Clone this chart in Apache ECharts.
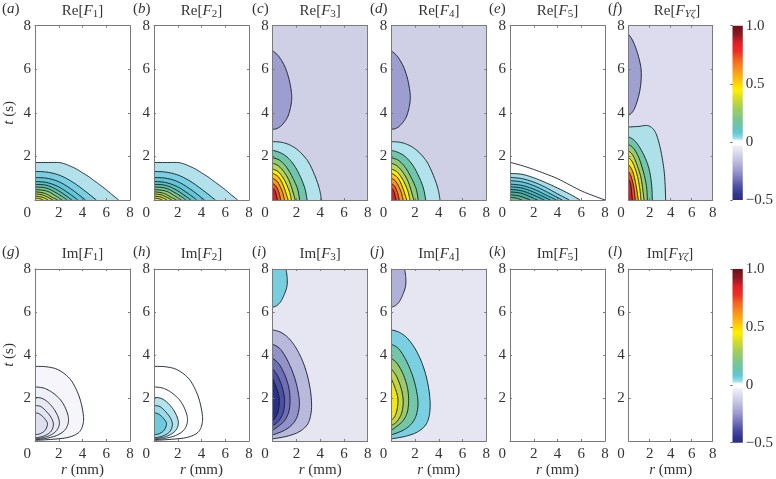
<!DOCTYPE html>
<html><head><meta charset="utf-8">
<style>html,body{margin:0;padding:0;background:#fff}#c{width:776px;height:479px}</style>
<script src="https://cdn.jsdelivr.net/npm/echarts@6/dist/echarts.min.js"></script>
</head><body><div id="c"></div>
<script>
// Contour curves, as [r (mm), t (s)], outermost first.
const reF1Lines = [
 [[0,1.72],[1,1.72],[2,1.72],[2.5,1.66],[3,1.55],[3.5,1.42],[4,1.25],[4.5,1.08],[5,0.88],[5.5,0.68],[6,0.47],[6.5,0.24],[7.05,0]],
 [[0,1.31],[1,1.28],[2,1.15],[3,0.88],[4,0.5],[5.17,0]],
 [[0,1.03],[1,1.0],[2,0.84],[3,0.52],[4.25,0]],
 [[0,0.85],[1,0.8],[2,0.6],[3,0.25],[3.6,0]],
 [[0,0.72],[1,0.67],[2,0.42],[3.1,0]],
 [[0,0.6],[1,0.54],[2,0.26],[2.7,0]],
 [[0,0.48],[1,0.41],[1.8,0.17],[2.3,0]],
 [[0,0.38],[0.8,0.31],[1.4,0.14],[1.9,0]],
 [[0,0.28],[0.7,0.22],[1.5,0]],
 [[0,0.18],[0.6,0.13],[1.1,0]],
 [[0,0.09],[0.4,0.06],[0.7,0]]
];
const reF2Lines = reF1Lines;
const reF3Lines = [
 [[0,6.85],[0.5,6.6],[1,6.15],[1.35,5.6],[1.55,5.05],[1.6,4.66],[1.5,4.25],[1.25,3.8],[0.8,3.45],[0.4,3.29],[0,3.24]],
 [[0,2.68],[0.6,2.66],[1.2,2.58],[1.8,2.42],[2.4,2.15],[3,1.75],[3.45,1.25],[3.8,0.75],[4,0.35],[4.1,0]],
 [[0,2.28],[0.6,2.18],[1.2,1.98],[1.8,1.6],[2.3,1.1],[2.7,0.55],[2.9,0]],
 [[0,1.94],[0.6,1.82],[1.2,1.48],[1.7,1.0],[2.1,0.5],[2.27,0]],
 [[0,1.69],[0.5,1.56],[1,1.25],[1.45,0.8],[1.9,0]],
 [[0,1.42],[0.5,1.28],[1,0.9],[1.4,0.4],[1.57,0]],
 [[0,1.23],[0.5,1.05],[0.9,0.65],[1.3,0]],
 [[0,1.0],[0.4,0.84],[0.8,0.4],[1.0,0]],
 [[0,0.76],[0.3,0.62],[0.55,0.3],[0.67,0]],
 [[0,0.53],[0.2,0.42],[0.4,0]]
];
const reF4Lines = reF3Lines;
const reF5Lines = [
 [[0,1.73],[1,1.58],[2,1.4],[3,1.2],[4,0.98],[5,0.7],[6,0.42],[7,0.2],[8,0]],
 [[0,1.22],[1,1.18],[2,1.02],[3,0.8],[4,0.55],[5,0.28],[5.9,0]],
 [[0,1.04],[1,0.98],[2,0.82],[3,0.58],[4,0.28],[5,0]],
 [[0,0.89],[1,0.83],[2,0.66],[3,0.4],[4.4,0]],
 [[0,0.73],[1,0.67],[2,0.5],[3,0.24],[3.9,0]],
 [[0,0.61],[1,0.55],[2,0.36],[3.4,0]],
 [[0,0.49],[1,0.42],[2,0.22],[2.9,0]],
 [[0,0.37],[1,0.3],[2.3,0]],
 [[0,0.24],[0.8,0.18],[1.7,0]],
 [[0,0.12],[0.5,0.09],[1,0]]
];
const reFYLines = [
 [[0,7.6],[0.4,7.3],[0.8,6.8],[1.1,6.25],[1.2,5.8],[1.12,5.2],[0.85,4.6],[0.45,4.1],[0,3.88]],
 [[0,3.35],[1,3.38],[1.7,3.42],[2.2,3.32],[2.6,3.05],[2.95,2.5],[3.2,1.9],[3.38,1.3],[3.47,0.7],[3.52,0]],
 [[0,2.9],[0.5,2.75],[1,2.45],[1.6,1.9],[2,1.3],[2.2,0.6],[2.25,0]],
 [[0,2.55],[0.5,2.35],[1,1.9],[1.45,1.2],[1.7,0.6],[1.78,0]],
 [[0,2.25],[0.4,2.05],[0.8,1.6],[1.2,0.95],[1.46,0]],
 [[0,1.95],[0.4,1.7],[0.8,1.15],[1.05,0.55],[1.17,0]],
 [[0,1.62],[0.35,1.35],[0.65,0.8],[0.92,0]],
 [[0,1.3],[0.25,1.05],[0.5,0.55],[0.63,0]],
 [[0,0.95],[0.2,0.7],[0.35,0]]
];
const imF1Lines = [
 [[0,3.47],[1,3.45],[2,3.3],[3,2.85],[3.7,2.1],[4.05,1.3],[4.05,0.8],[3.7,0.4],[2.8,0.17],[1.5,0.08],[0,0.03]],
 [[0,2.52],[0.8,2.45],[1.6,2.2],[2.3,1.8],[2.75,1.25],[2.8,0.85],[2.5,0.5],[1.8,0.25],[0.8,0.11],[0,0.06]],
 [[0,2.03],[0.6,1.98],[1.2,1.75],[1.75,1.35],[2.05,0.9],[1.9,0.55],[1.4,0.3],[0.7,0.16],[0,0.1]],
 [[0,1.65],[0.5,1.6],[1,1.35],[1.4,1.05],[1.55,0.75],[1.35,0.45],[0.9,0.27],[0.4,0.18],[0,0.15]],
 [[0,1.32],[0.4,1.25],[0.8,1.05],[1.05,0.8],[0.85,0.5],[0.4,0.33],[0,0.3]]
];
const imF2Lines = imF1Lines;
const imF3Lines = [
 [[1.12,8],[1.22,7.6],[1.2,7.2],[1,6.85],[0.7,6.5],[0.35,6.3],[0,6.22]],
 [[0,5.17],[0.7,5.05],[1.4,4.75],[2.1,4.2],[2.7,3.45],[3.1,2.6],[3.27,1.8],[3.2,1.2],[2.9,0.75],[2.2,0.42],[1.2,0.22],[0,0.1]],
 [[0,4.5],[0.6,4.3],[1.2,3.8],[1.75,3.1],[2.1,2.4],[2.25,1.75],[2.1,1.2],[1.7,0.8],[1,0.5],[0,0.28]],
 [[0,3.85],[0.5,3.6],[1,3.1],[1.35,2.5],[1.46,1.9],[1.35,1.35],[1,0.95],[0.5,0.7],[0,0.5]],
 [[0,3.35],[0.4,3.05],[0.8,2.5],[1,1.9],[0.9,1.35],[0.6,1],[0.3,0.82],[0,0.72]],
 [[0,2.9],[0.3,2.5],[0.55,2],[0.5,1.5],[0.3,1.15],[0,0.95]]
];
const imF4Lines = imF3Lines;
const noLines = [];
// Fills, one per curve, in the same order.
const fillA = ['#b2e1ec','#7ccfe0','#62c6d6','#5cc2c4','#66c2ab','#7cc692','#93ca76','#aad25e','#c2d94c','#d4dc40','#e2e03a'];
const fillC = ['#9d9dcf','#b2e2ec','#70c5aa','#8fca78','#bcd653','#fff000','#fdc010','#f7941e','#ef4e23','#d2222a'];
const fillE = ['#ffffff','#a9dde9','#85d2e2','#66c8d8','#55c0cd','#4cb8bf','#4ab2ae','#4fb19d','#5cb890','#6cbf80'];
const fillF = ['#a0a0d0','#aee0ea','#70c5aa','#98cb6e','#c9d94a','#fff000','#f9a01b','#ee4a24','#cf2129'];
const fillG = ['#f5f5fb','#efeff8','#e9e9f5','#e4e4f2','#dedeef'];
const fillH = ['#ffffff','#ffffff','#b5e3ec','#9ddae7','#6fcbdc'];
const fillI = ['#76cede','#b9b9dc','#9292c8','#6d6fb5','#4d4fa5','#2b2f85'];
const fillJ = ['#b0b0d8','#7ad0e0','#74c6a8','#9cc96a','#c2d643','#f5e50f'];
// Colour-bar stops: [value, colour]
const barStops = [[-0.5,'#2a2d84'],[-0.45,'#31358f'],[-0.38,'#4f52a6'],[-0.32,'#7474b8'],[-0.25,'#9a9acd'],[-0.15,'#c5c5e2'],[-0.04,'#eeeef7'],[-0.02,'#ffffff'],[0.01,'#ffffff'],[0.02,'#c5ebf2'],[0.04,'#8fd8e6'],[0.08,'#5fc8d8'],[0.12,'#68c4b4'],[0.2,'#7cc68f'],[0.3,'#a8cf55'],[0.38,'#d8de26'],[0.45,'#fff100'],[0.5,'#ffd500'],[0.55,'#fdb913'],[0.62,'#f8941d'],[0.7,'#f26a21'],[0.78,'#ed2d24'],[0.85,'#e01f26'],[0.92,'#8f1a20'],[1,'#6b1018']];
const barTicks = {'-0.5':'\u22120.5','0':'0','0.5':'0.5','1':'1.0'};

const panels = [
 {tag:'a',title:'Re[{i|F}{s|1}]',lines:reF1Lines,fill:fillA,bg:'#ffffff'},
 {tag:'b',title:'Re[{i|F}{s|2}]',lines:reF2Lines,fill:fillA,bg:'#ffffff'},
 {tag:'c',title:'Re[{i|F}{s|3}]',lines:reF3Lines,fill:fillC,bg:'#cfcfe6'},
 {tag:'d',title:'Re[{i|F}{s|4}]',lines:reF4Lines,fill:fillC,bg:'#cfcfe6'},
 {tag:'e',title:'Re[{i|F}{s|5}]',lines:reF5Lines,fill:fillE,bg:'#ffffff'},
 {tag:'f',title:'Re[{i|F}{z|Y\u03B6}]',lines:reFYLines,fill:fillF,bg:'#dcdcee',tx:677},
 {tag:'g',title:'Im[{i|F}{s|1}]',lines:imF1Lines,fill:fillG,bg:'#ffffff'},
 {tag:'h',title:'Im[{i|F}{s|2}]',lines:imF2Lines,fill:fillH,bg:'#ffffff'},
 {tag:'i',title:'Im[{i|F}{s|3}]',lines:imF3Lines,fill:fillI,bg:'#e6e6f2'},
 {tag:'j',title:'Im[{i|F}{s|4}]',lines:imF4Lines,fill:fillJ,bg:'#e6e6f2'},
 {tag:'k',title:'Im[{i|F}{s|5}]',lines:noLines,fill:[],bg:'#ffffff'},
 {tag:'l',title:'Im[{i|F}{z|Y\u03B6}]',lines:noLines,fill:[],bg:'#ffffff',tx:670}
];

const lefts=[35,154,272.7,391.3,510,628.7], widths=[95,95,95,95,95,84], tagX=[2,133,252,370,489,608];
const rows=[{top:25.7,h:174.3,tt:2,xn:false},{top:269,h:173.7,tt:245,xn:true}];
const FONT='"Liberation Serif","Times New Roman",serif', INK='#333333', FRAME='#7a7a7a', LINE='rgba(15,25,35,0.9)';
const base={fontFamily:FONT,fontSize:15,fontWeight:'normal',color:INK};
const rich={
 i:{...base,fontStyle:'italic'},
 s:{fontFamily:FONT,fontSize:11,fontWeight:'normal',color:INK,padding:[7,0,0,0]},
 z:{fontFamily:FONT,fontSize:11,fontWeight:'normal',color:INK,fontStyle:'italic',padding:[7,0,0,0]},
 m:{...base,width:23,align:'left'}
};
function dense(pts){ // smooth the drawn curve between the given points
 const out=[];
 for(let i=0;i<pts.length-1;i++){
  const p0=pts[Math.max(i-1,0)],p1=pts[i],p2=pts[i+1],p3=pts[Math.min(i+2,pts.length-1)];
  for(let k=0;k<8;k++){const t=k/8,a=t*t,b=a*t;
   out.push([0,1].map(j=>0.5*(2*p1[j]+(p2[j]-p0[j])*t+(2*p0[j]-5*p1[j]+4*p2[j]-p3[j])*a+(3*p1[j]-p0[j]-3*p2[j]+p3[j])*b)));}
 }
 out.push(pts[pts.length-1]);return out;
}
const grid=[],xAxis=[],yAxis=[],series=[],title=[];
function axisCommon(){return {min:0,max:8,interval:2,type:'value',splitLine:{show:false},z:5,
 axisLine:{show:true,onZero:false,lineStyle:{color:FRAME,width:1}},
 axisTick:{show:true,inside:true,length:2,lineStyle:{color:FRAME,width:1}}};}
panels.forEach((p,n)=>{
 const c=n%6,R=rows[n<6?0:1],g=grid.length;
 grid.push({left:lefts[c],top:R.top,width:widths[c],height:R.h,show:true,backgroundColor:p.bg,borderWidth:0,containLabel:false});
 const xi=xAxis.length,yi=yAxis.length;
 const xa={...axisCommon(),gridIndex:g,position:'bottom',
  axisLabel:{...base,margin:6,hideOverlap:false,showMinLabel:true,showMaxLabel:true,rich,formatter:v=>v===0?'{m|0}':String(v)}};
 if(R.xn){xa.name='{i|r} (mm)';xa.nameLocation='middle';xa.nameGap=22;xa.nameTextStyle={...base,rich};}
 xAxis.push(xa,{...axisCommon(),gridIndex:g,position:'top',axisLabel:{show:false}});
 const ya={...axisCommon(),gridIndex:g,position:'left',
  axisLabel:{...base,margin:4,showMinLabel:true,showMaxLabel:true,formatter:v=>v===0?'':String(v)}};
 if(c===0){ya.name='{i|t} (s)';ya.nameLocation='middle';ya.nameGap=18;ya.nameRotate=90;ya.nameTextStyle={...base,rich};}
 yAxis.push(ya,{...axisCommon(),gridIndex:g,position:'right',axisLabel:{show:false}});
 title.push({text:p.title,left:p.tx||lefts[c]+47.5,top:R.tt,textAlign:'center',padding:0,textStyle:{...base,rich}});
 title.push({text:'({i|'+p.tag+'})',left:tagX[c],top:R.tt,padding:0,textStyle:{...base,rich}});
 series.push({type:'custom',xAxisIndex:xi,yAxisIndex:yi,clip:true,silent:true,z:2,
  data:p.lines.map((_,i)=>[i]),
  renderItem(params,api){
   const i=api.value(0),pts=p.lines[i],curve=dense(pts);
   const first=pts[0],last=pts[pts.length-1],closing=[];
   if(first[0]===0&&last[1]===0)closing.push([0,0]);
   if(first[1]===8)closing.push([0,8]);
   const cv=curve.map(q=>api.coord(q)),cl=closing.map(q=>api.coord(q));
   return {type:'group',children:[
    {type:'polygon',shape:{points:cv.concat(cl)},style:{fill:p.fill[i],stroke:null}},
    {type:'polyline',shape:{points:cv},style:{fill:null,stroke:LINE,lineWidth:1}}
   ]};
  }});
});
// colour bars
rows.forEach(R=>{
 const g=grid.length,xi=xAxis.length,yi=yAxis.length;
 grid.push({left:732.5,top:R.top,width:13,height:R.h,show:false});
 xAxis.push({type:'value',min:0,max:1,show:false,gridIndex:g});
 yAxis.push({type:'value',min:-0.5,max:1,interval:0.5,gridIndex:g,position:'right',splitLine:{show:false},z:5,
  axisLine:{show:false},axisTick:{show:true,inside:true,length:2,lineStyle:{color:'#555'}},
  axisLabel:{...base,margin:3,showMinLabel:true,showMaxLabel:true,formatter:v=>barTicks[String(v)]}});
 series.push({type:'custom',xAxisIndex:xi,yAxisIndex:yi,silent:true,clip:false,data:[[0]],
  renderItem(params,api){
   const a=api.coord([0,1]),b=api.coord([1,-0.5]);
   const lo=barStops[0][0],hi=barStops[barStops.length-1][0];
   return {type:'rect',shape:{x:a[0],y:a[1],width:b[0]-a[0],height:b[1]-a[1]},
    style:{fill:new echarts.graphic.LinearGradient(0,1,0,0,barStops.map(s=>({offset:(s[0]-lo)/(hi-lo),color:s[1]})))}};
  }});
});
const chart=echarts.init(document.getElementById('c'),null,{renderer:'canvas'});
chart.setOption({animation:false,backgroundColor:'#fff',tooltip:{show:false},title,grid,xAxis,yAxis,series});
</script></body></html>
